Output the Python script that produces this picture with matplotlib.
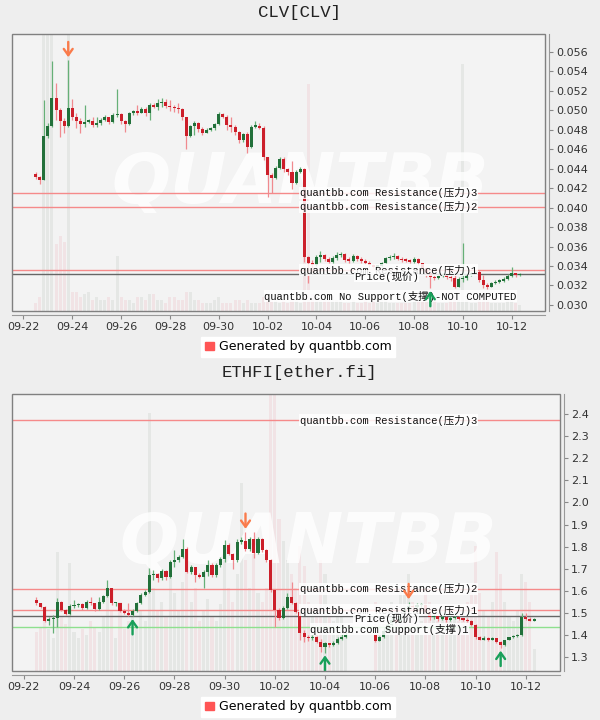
import matplotlib
matplotlib.use("Agg")
import matplotlib.pyplot as plt
import matplotlib.dates as mdates
import matplotlib.transforms as mtransforms
from matplotlib.patches import Patch, Rectangle
from matplotlib.ticker import MultipleLocator, FormatStrFormatter
import numpy as np
import pandas as pd

plt.rcParams["font.family"] = ["DejaVu Sans", "Noto Sans CJK SC"]

# 4h candles, first one at 09-22 12:00
start_time = "2024-09-22 12:00"
n_candles = 120
tick_labels = ["09-22", "09-24", "09-26", "09-28", "09-30", "10-02",
               "10-04", "10-06", "10-08", "10-10", "10-12"]

# ---- CLV ----
clv_first_open = 0.04343
clv_close = [
    0.04312, 0.04285, 0.04740, 0.04843, 0.05124, 0.05004, 0.04894, 0.04843, 0.05028, 0.04936,
    0.04891, 0.04857, 0.04884, 0.04891, 0.04850, 0.04867, 0.04901, 0.04929, 0.04884, 0.04953,
    0.04960, 0.04894, 0.04857, 0.04977, 0.04987, 0.04977, 0.05011, 0.04970, 0.05055, 0.05038,
    0.05073, 0.05083, 0.05045, 0.05031, 0.05021, 0.05011, 0.04929, 0.04737, 0.04843, 0.04874,
    0.04805, 0.04771, 0.04799, 0.04816, 0.04857, 0.04963, 0.04936, 0.04850, 0.04833, 0.04781,
    0.04696, 0.04757, 0.04620, 0.04833, 0.04843, 0.04823, 0.04518, 0.04336, 0.04302, 0.04405,
    0.04497, 0.04394, 0.04370, 0.04257, 0.04370, 0.04394, 0.03497, 0.03428, 0.03411, 0.03490,
    0.03514, 0.03470, 0.03446, 0.03480, 0.03514, 0.03521, 0.03463, 0.03456, 0.03504, 0.03477,
    0.03456, 0.03435, 0.03411, 0.03394, 0.03401, 0.03435, 0.03480, 0.03490, 0.03504, 0.03477,
    0.03463, 0.03456, 0.03446, 0.03477, 0.03428, 0.03377, 0.03326, 0.03285, 0.03274, 0.03298,
    0.03308, 0.03285, 0.03274, 0.03189, 0.03264, 0.03274, 0.03308, 0.03326, 0.03343, 0.03257,
    0.03206, 0.03189, 0.03223, 0.03240, 0.03250, 0.03271, 0.03298, 0.03329, 0.03305, 0.03315,
]
clv_high = [
    0.04363, 0.04326, 0.05107, 0.04867, 0.05508, 0.05285, 0.05021, 0.04918, 0.05518, 0.05114,
    0.04970, 0.04918, 0.05055, 0.04908, 0.04929, 0.04936, 0.04918, 0.04953, 0.04936, 0.04970,
    0.05217, 0.04970, 0.04901, 0.04987, 0.05004, 0.05055, 0.05038, 0.05038, 0.05073, 0.05079,
    0.05114, 0.05124, 0.05114, 0.05107, 0.05055, 0.05073, 0.05021, 0.04936, 0.04850, 0.04891,
    0.04884, 0.04833, 0.04816, 0.04833, 0.04867, 0.04987, 0.04977, 0.04953, 0.04936, 0.04850,
    0.04792, 0.04771, 0.04781, 0.04850, 0.04891, 0.04867, 0.04843, 0.04524, 0.04353, 0.04429,
    0.04524, 0.04518, 0.04405, 0.04483, 0.04387, 0.04415, 0.04405, 0.03504, 0.03463, 0.03514,
    0.03559, 0.03524, 0.03497, 0.03504, 0.03548, 0.03548, 0.03531, 0.03497, 0.03524, 0.03514,
    0.03490, 0.03470, 0.03456, 0.03420, 0.03415, 0.03445, 0.03497, 0.03514, 0.03531, 0.03514,
    0.03497, 0.03480, 0.03470, 0.03497, 0.03487, 0.03435, 0.03377, 0.03332, 0.03308, 0.03315,
    0.03332, 0.03315, 0.03308, 0.03308, 0.03285, 0.03634, 0.03326, 0.03340, 0.03360, 0.03360,
    0.03308, 0.03223, 0.03240, 0.03257, 0.03264, 0.03285, 0.03318, 0.03387, 0.03332, 0.03326,
]
clv_low = [
    0.04295, 0.04244, 0.04285, 0.04713, 0.04833, 0.04901, 0.04723, 0.04764, 0.04833, 0.04901,
    0.04816, 0.04771, 0.04833, 0.04867, 0.04833, 0.04833, 0.04850, 0.04891, 0.04860, 0.04874,
    0.04929, 0.04860, 0.04781, 0.04850, 0.04953, 0.04953, 0.04970, 0.04942, 0.04901, 0.05021,
    0.05004, 0.05038, 0.05021, 0.04997, 0.04987, 0.04970, 0.04901, 0.04600, 0.04723, 0.04747,
    0.04781, 0.04747, 0.04764, 0.04792, 0.04799, 0.04850, 0.04918, 0.04799, 0.04781, 0.04747,
    0.04668, 0.04679, 0.04559, 0.04610, 0.04816, 0.04805, 0.04490, 0.04113, 0.04148, 0.04291,
    0.04394, 0.04370, 0.04336, 0.04189, 0.04244, 0.04353, 0.03446, 0.03223, 0.03343, 0.03401,
    0.03446, 0.03456, 0.03428, 0.03435, 0.03463, 0.03497, 0.03446, 0.03435, 0.03446, 0.03456,
    0.03435, 0.03421, 0.03394, 0.03380, 0.03385, 0.03394, 0.03428, 0.03463, 0.03470, 0.03463,
    0.03446, 0.03442, 0.03435, 0.03435, 0.03411, 0.03360, 0.03291, 0.03172, 0.03257, 0.03264,
    0.03285, 0.03264, 0.03250, 0.03172, 0.03189, 0.03240, 0.03257, 0.03298, 0.03315, 0.03240,
    0.03172, 0.03161, 0.03189, 0.03212, 0.03223, 0.03236, 0.03257, 0.03291, 0.03291, 0.03298,
]
clv_volume = [
    3, 5, 100, 100, 100, 24, 27, 25, 100, 7,
    7, 5, 6, 7, 4, 5, 4, 4, 5, 4,
    20, 5, 4, 4, 3, 5, 5, 4, 6, 6,
    4, 4, 3, 5, 5, 4, 4, 7, 7, 4,
    4, 3, 3, 3, 4, 5, 3, 3, 3, 4,
    4, 3, 4, 3, 3, 3, 5, 6, 4, 4,
    3, 4, 3, 4, 4, 3, 30, 82, 6, 5,
    5, 4, 4, 5, 4, 4, 3, 3, 4, 3,
    3, 4, 3, 4, 3, 4, 4, 3, 3, 3,
    3, 3, 3, 4, 4, 5, 5, 6, 4, 3,
    3, 3, 4, 5, 4, 89, 4, 3, 3, 4,
    5, 4, 3, 3, 3, 3, 4, 4, 3, 2,
]
clv_resistance = [0.03356, 0.04007, 0.04154]
clv_support = []
clv_price = 0.03315
clv_peaks = [8]
clv_troughs = [97]
clv_ylim = (0.02938, 0.05785)

# ---- ETHFI ----
nan = float("nan")
eth_first_open = 1.5591
eth_close = [
    1.5440, 1.5260, 1.4657, 1.4717, 1.4762, 1.5516, 1.5139, 1.4958, 1.5320, 1.5365,
    1.5410, 1.5214, 1.5516, 1.5440, 1.5169, 1.5516, 1.5772, 1.6119, 1.5440, 1.5471,
    1.5109, 1.4988, 1.4913, 1.5109, 1.5471, 1.5817, 1.5968, 1.6721, 1.6766, 1.6571,
    1.6917, 1.6646, 1.7324, 1.7399, 1.7520, 1.7882, 1.6872, 1.7068, 1.6721, 1.6646,
    1.6872, 1.7173, 1.6721, 1.7173, 1.7429, 1.8077, 1.7671, 1.7399, 1.8228, 1.8273,
    1.7882, 1.8334, 1.7731, 1.8334, 1.7851, 1.7399, 1.6043, 1.5139, 1.4762, 1.5214,
    1.5712, 1.5471, 1.5063, 1.4085, 1.3904, 1.3859, 1.3934, 1.3708, 1.3482, 1.3633,
    1.3542, 1.3663, 1.3844, 1.3934, 1.3994, nan, nan, nan, nan, nan,
    nan, 1.3753, 1.3904, 1.4200, 1.4450, 1.4700, 1.4600, 1.4900, 1.5150, 1.5300,
    1.5250, 1.5350, 1.5380, 1.5050, 1.4800, 1.4880, 1.4750, 1.4820, 1.4700, 1.4780,
    1.4830, 1.4750, 1.4700, 1.4650, 1.4460, 1.3900, 1.3800, 1.3890, 1.3800, 1.3850,
    1.3708, 1.3557, 1.3783, 1.3904, 1.3964, 1.4009, 1.4840, 1.4720, 1.4660, 1.4730,
]
eth_high = [
    1.5742, 1.5471, 1.5320, 1.4838, 1.4913, 1.5666, 1.5561, 1.5169, 1.5410, 1.5591,
    1.5471, 1.5440, 1.5591, 1.5742, 1.5471, 1.5712, 1.5817, 1.6495, 1.6119, 1.5516,
    1.5471, 1.5169, 1.5440, 1.5169, 1.5516, 1.5892, 1.6043, 1.7023, 1.6947, 1.6796,
    1.6977, 1.6947, 1.7399, 1.7851, 1.7626, 1.8334, 1.8002, 1.7173, 1.7068, 1.6796,
    1.6947, 1.7399, 1.7249, 1.7249, 1.7520, 1.8304, 1.8153, 1.7701, 1.8334, 1.8454,
    1.8680, 1.8424, 1.8680, 1.8424, 1.8379, 1.7882, 1.7429, 1.6043, 1.5214, 1.5320,
    1.5892, 1.6420, 1.5516, 1.5100, 1.4236, 1.4009, 1.4009, 1.3964, 1.3813, 1.3708,
    1.3663, 1.3738, 1.3904, 1.4055, 1.4160, nan, nan, nan, nan, nan,
    nan, 1.3964, 1.3964, 1.4300, 1.4550, 1.4800, 1.4780, 1.5000, 1.5250, 1.5500,
    1.5420, 1.5440, 1.5460, 1.5400, 1.5100, 1.4950, 1.4900, 1.4900, 1.4850, 1.4850,
    1.4900, 1.4880, 1.4780, 1.4760, 1.4700, 1.4500, 1.3940, 1.3950, 1.3920, 1.3930,
    1.3880, 1.3740, 1.3800, 1.3930, 1.3990, 1.4060, 1.4990, 1.4990, 1.4810, 1.4780,
]
eth_low = [
    1.5365, 1.5214, 1.4612, 1.4461, 1.4114, 1.4386, 1.5109, 1.4913, 1.4913, 1.5214,
    1.5290, 1.5139, 1.5169, 1.5365, 1.5109, 1.5139, 1.5471, 1.5742, 1.5365, 1.5320,
    1.5063, 1.4958, 1.4870, 1.4850, 1.5063, 1.5410, 1.5772, 1.5892, 1.6495, 1.6420,
    1.6495, 1.6495, 1.6571, 1.7098, 1.7324, 1.7475, 1.6796, 1.6766, 1.6420, 1.6571,
    1.6119, 1.6676, 1.6646, 1.6646, 1.7068, 1.7324, 1.7626, 1.6977, 1.7324, 1.8123,
    1.7821, 1.7821, 1.7475, 1.7671, 1.7776, 1.7324, 1.5968, 1.4386, 1.4687, 1.4717,
    1.5169, 1.5410, 1.4988, 1.3783, 1.3708, 1.3753, 1.3783, 1.3633, 1.3256, 1.3211,
    1.3452, 1.3512, 1.3603, 1.3783, 1.3859, nan, nan, nan, nan, nan,
    nan, 1.3708, 1.3723, 1.3880, 1.4150, 1.4400, 1.4500, 1.4550, 1.4850, 1.5100,
    1.5150, 1.5200, 1.5280, 1.4950, 1.4700, 1.4750, 1.4650, 1.4700, 1.4600, 1.4650,
    1.4720, 1.4680, 1.4620, 1.4600, 1.4400, 1.3810, 1.3760, 1.3770, 1.3750, 1.3760,
    1.3650, 1.3420, 1.3520, 1.3760, 1.3860, 1.3930, 1.3980, 1.4680, 1.4630, 1.4650,
]
eth_volume = [
    14, 16, 18, 15, 12, 43, 20, 17, 39, 14,
    12, 15, 13, 18, 16, 14, 20, 28, 22, 12,
    25, 15, 18, 20, 16, 22, 18, 93, 30, 22,
    25, 20, 35, 28, 22, 32, 45, 25, 30, 18,
    22, 26, 20, 18, 24, 40, 30, 25, 35, 68,
    40, 30, 45, 28, 25, 30, 100, 100, 55, 47,
    40, 35, 30, 45, 38, 25, 20, 22, 40, 35,
    20, 18, 22, 20, 15, nan, nan, nan, nan, nan,
    nan, 25, 18, 20, 22, 25, 18, 28, 30, 35,
    25, 20, 18, 30, 25, 20, 18, 22, 20, 18,
    20, 18, 22, 25, 30, 45, 28, 22, 20, 25,
    43, 35, 25, 20, 18, 22, 35, 32, 25, 8,
]
eth_resistance = [1.5125, 1.610, 2.3715]
eth_support = [1.4357]
eth_price = 1.4855
eth_peaks = [50, 89]
eth_troughs = [23, 69, 111]
eth_ylim = (1.238, 2.49)

FIG_BG = "#eeeeee"
PLOT_BG = "#f3f3f3"
UP_BODY, UP_WICK = "#22703a", "#66b077"
DN_BODY, DN_WICK = "#cc1f2a", "#f08a8f"
UP_VOL, DN_VOL = "#e5e7e5", "#f1e3e5"
RES_COLOR, SUP_COLOR, PRICE_COLOR = "#f58a8a", "#8ee08e", "#666666"
ORANGE, GREEN = "#fa7b4b", "#18a05a"
LABEL_FONT = ["Liberation Mono", "Noto Sans CJK SC"]

fig = plt.figure(figsize=(6, 7.2), dpi=100, facecolor=FIG_BG)
times = mdates.date2num(pd.date_range(start_time, periods=n_candles, freq="4h"))
tick_pos = mdates.date2num(pd.to_datetime(["2024-" + s for s in tick_labels]))


def draw_panel(rect, title, title_y, first_open, close, high, low, volume,
               resistance, support, price, peaks, troughs, ylim, ystep, yfmt,
               label_x, price_x, support_x, legend_x, no_support_xy=None):
    ax = fig.add_axes(rect)
    vax = ax.twinx()
    ax.set_zorder(vax.get_zorder() + 1)
    ax.patch.set_visible(False)
    vax.patch.set_visible(True)
    vax.patch.set_facecolor(PLOT_BG)

    c = np.array(close, float)
    h = np.array(high, float)
    l = np.array(low, float)
    o = pd.Series(c).ffill().shift(1).to_numpy()
    o[0] = first_open
    h = np.fmax(h, np.fmax(o, c))
    l = np.fmin(l, np.fmin(o, c))
    ok = ~np.isnan(c)
    up = ok & (c >= o)
    dn = ok & (c < o)
    min_h = (ylim[1] - ylim[0]) / 277 * 1.2
    bot = np.fmin(o, c)
    hgt = np.fmax(np.abs(c - o), min_h)
    w = 0.74 / 6

    vol = np.array(volume, float)
    vax.bar(times[up], vol[up], width=w, color=UP_VOL, linewidth=0, zorder=1)
    vax.bar(times[dn], vol[dn], width=w, color=DN_VOL, linewidth=0, zorder=1)
    vax.set_ylim(0, 100)
    vax.set_yticks([])
    vax.tick_params(right=False, labelright=False)
    for s in vax.spines.values():
        s.set_visible(False)
    vax.text(0.54, 0.46, "QUANTBB", transform=vax.transAxes, fontsize=50,
             fontweight="bold", style="italic", color="white", alpha=0.8,
             ha="center", va="center", zorder=2)

    for mask, body, wick in ((up, UP_BODY, UP_WICK), (dn, DN_BODY, DN_WICK)):
        ax.vlines(times[mask], l[mask], h[mask], color=wick, lw=0.9, zorder=3)
        ax.bar(times[mask], hgt[mask], bottom=bot[mask], width=w, color=body,
               linewidth=0, zorder=4)

    trans = mtransforms.blended_transform_factory(ax.transAxes, ax.transData)
    lab_kw = dict(fontsize=7.6, family=LABEL_FONT, color="#111111", va="center",
                  ha="left", zorder=6,
                  bbox=dict(facecolor="white", alpha=0.85, edgecolor="none", pad=0.4))
    for k in range(len(resistance) - 1, -1, -1):
        ax.axhline(resistance[k], color=RES_COLOR, lw=1, zorder=2)
        ax.text(label_x, resistance[k], f"quantbb.com Resistance(压力){k + 1}",
                transform=trans, **lab_kw)
    for k, lv in enumerate(support):
        ax.axhline(lv, color=SUP_COLOR, lw=1, zorder=2)
        ax.text(support_x, lv, f"quantbb.com Support(支撑){k + 1}",
                transform=mtransforms.offset_copy(trans, fig=fig, y=-2, units="dots"),
                **lab_kw)
    if no_support_xy is not None:
        ax.text(no_support_xy[0], no_support_xy[1],
                "quantbb.com No Support(支撑)-NOT COMPUTED",
                transform=ax.transAxes, **lab_kw)
    ax.axhline(price, color=PRICE_COLOR, lw=1, zorder=2)
    ax.text(price_x, price, "Price(现价)",
            transform=mtransforms.offset_copy(trans, fig=fig, y=-2, units="dots"),
            **{**lab_kw, "zorder": 7})

    arrow = "->,head_length=0.45,head_width=0.32"
    for i in peaks:
        ax.annotate("", xy=(times[i], h[i]), xytext=(0, 13), textcoords="offset points",
                    arrowprops=dict(arrowstyle=arrow, color=ORANGE, lw=1.7,
                                    shrinkA=0, shrinkB=2), zorder=8)
    for i in troughs:
        ax.annotate("", xy=(times[i], l[i]), xytext=(0, -13), textcoords="offset points",
                    arrowprops=dict(arrowstyle=arrow, color=GREEN, lw=1.7,
                                    shrinkA=0, shrinkB=2), zorder=8)

    ax.set_xlim(times[0] - 0.97, times[-1] + 1.03)
    ax.set_ylim(*ylim)
    ax.set_xticks(tick_pos)
    ax.set_xticklabels(tick_labels)
    ax.yaxis.tick_right()
    ax.yaxis.set_major_locator(MultipleLocator(ystep))
    ax.yaxis.set_major_formatter(FormatStrFormatter(yfmt))
    ax.tick_params(axis="both", direction="out", length=3, width=0.8,
                   colors="#888888", labelcolor="#333333", labelsize=8, pad=2)
    for side in ("left", "top"):
        ax.spines[side].set_visible(False)
    for side in ("right", "bottom"):
        ax.spines[side].set_position(("outward", 3))
        ax.spines[side].set_color("#999999")
    ax.add_patch(Rectangle((0, 0), 1, 1, transform=ax.transAxes, fill=False,
                           edgecolor="#808080", lw=1, clip_on=False, zorder=9))

    fig.text(0.499, title_y, title, ha="center", va="center", fontsize=12.5,
             family=["Liberation Mono", "Noto Sans CJK SC"], color="#222222")
    ax.legend(handles=[Patch(facecolor="#ff5555", edgecolor="#ff5555")],
              labels=["Generated by quantbb.com"], loc="center",
              bbox_to_anchor=(legend_x, -0.13), frameon=True, fancybox=False,
              framealpha=1, facecolor="white", edgecolor="white",
              handlelength=0.7, handleheight=0.7, handletextpad=0.4,
              borderpad=0.3, fontsize=9)
    return ax


draw_panel([0.02, 0.5681, 0.8883, 0.3847], "CLV[CLV]", 0.983,
           clv_first_open, clv_close, clv_high, clv_low, clv_volume,
           clv_resistance, clv_support, clv_price, clv_peaks, clv_troughs,
           clv_ylim, 0.002, "%.3f", 0.540, 0.642, 0.55, 0.5375,
           no_support_xy=(0.473, 0.054))
draw_panel([0.02, 0.0681, 0.9133, 0.3847], "ETHFI[ether.fi]", 0.483,
           eth_first_open, eth_close, eth_high, eth_low, eth_volume,
           eth_resistance, eth_support, eth_price, eth_peaks, eth_troughs,
           eth_ylim, 0.1, "%.1f", 0.5255, 0.624, 0.544, 0.522)

fig.savefig("out.png", dpi=100, facecolor=FIG_BG)
